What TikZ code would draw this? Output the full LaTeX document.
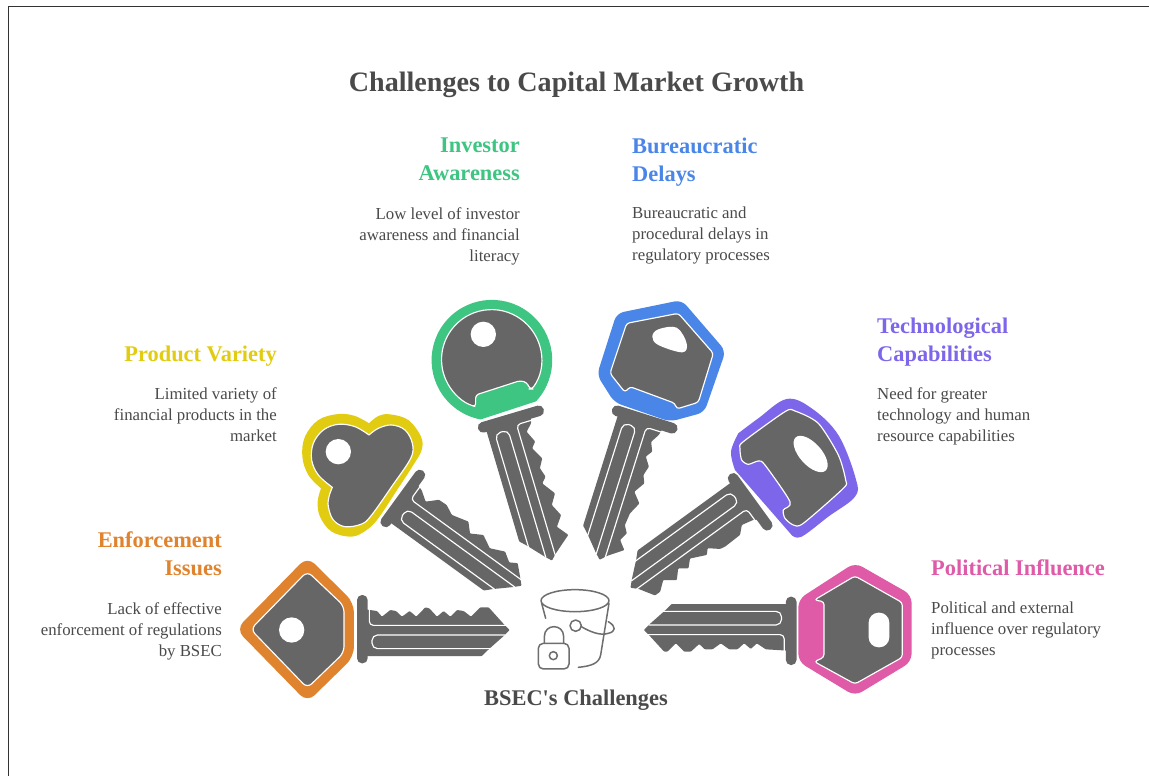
\documentclass[tikz,border=0pt]{standalone}
\usepackage{fontspec}
\setmainfont{Liberation Serif}
\definecolor{keygray}{HTML}{666666}
\definecolor{txtgray}{HTML}{4A4A4A}
\definecolor{cgreen}{HTML}{3EC582}
\definecolor{cblue}{HTML}{4A86E8}
\definecolor{cpurple}{HTML}{7E66EA}
\definecolor{cpink}{HTML}{DF5BA8}
\definecolor{cyellow}{HTML}{E2CC12}
\definecolor{corange}{HTML}{E0832E}
\tikzset{
  zoomed/.style 2 args={shift={(#1pt,-#2pt)},x=0.3333pt,y=-0.3333pt},
  inner/.style={fill=keygray,draw=white,line width=1.15pt,line join=round},
  groove/.style={draw=white,line width=1.15pt,line cap=butt},
  title/.style={font=\fontsize{28.1}{32}\selectfont\bfseries,text=txtgray,inner sep=0pt},
  head/.style={font=\fontsize{22.4}{28}\selectfont\bfseries,inner sep=0pt},
  body/.style={font=\fontsize{16.8}{21}\selectfont,text=txtgray,inner sep=0pt},
  icon/.style={draw=keygray!95,line width=1.5pt,line cap=round,line join=round}
}
\newcommand{\keyblade}[4]{%
 \begin{scope}[zoomed={#1}{#2},rotate=-#3,shift={(-380,-240)}]
  \fill[keygray,rounded corners=5pt] (380,135) rectangle (412,340);
  \fill[keygray,rounded corners=0.8pt] (405,178) #4 --(820,222)--(838,240)--(820,258)--(775,298)--(755,318)--(405,318)--cycle;
  \draw[groove,rounded corners=4pt] (417,172)--(417,226)--(828,226);
  \draw[groove,rounded corners=5.5pt] (824,255)--(425,255)--(425,296)--(782,296);
 \end{scope}}
\begin{document}
\begin{tikzpicture}[x=1pt,y=-1pt]
\useasboundingbox (0,0) rectangle (1149,776);
\fill[white] (0,0) rectangle (1149,776);
\draw[line width=1pt,black!80] (8.5,776)--(8.5,6.5)--(1149,6.5);

\node[title] (ttl) at (576.5,85) {Challenges to Capital Market Growth};

% blades
\keyblade{357}{630}{0}{--(440,183)--(455,200)--(480,180)--(497,183)--(515,200)--(538,183)--(558,200)--(585,172)--(597,175)--(620,200)--(640,183)--(660,200)--(680,180)--(700,183)--(722,200)--(750,172)--(775,172)}
\keyblade{796.5}{630}{180}{--(472,182)--(499,200)--(517,183)--(537,200)--(557,182)--(582,182)--(607,200)--(632,182)--(655,182)--(672,198)--(697,175)--(717,175)--(742,200)--(767,175)--(777,175)}
\keyblade{398}{496}{36}{--(427,184)--(457,205)--(486,177)--(514,176)--(544,191)--(596,178)--(621,204)--(656,184)--(695,205)--(738,186)--(767,205)--(789,192)}
\keyblade{508.6}{414.2}{73.5}{--(425,183)--(446,203)--(481,187)--(498,201)--(536,181)--(562,196)--(591,187)--(608,202)--(647,174)--(678,193)--(715,175)--(745,197)--(778,171)}
\keyblade{645.5}{414.2}{107.5}{--(427,183)--(454,199)--(481,187)--(501,201)--(527,183)--(556,191)--(579,181)--(612,202)--(641,177)--(678,195)--(716,199)--(738,186)--(763,199)--(788,178)}
\keyblade{754}{498}{144}{--(420,188)--(457,196)--(479,175)--(536,173)--(552,176)--(581,200)--(595,185)--(642,206)--(663,185)--(688,203)--(712,177)--(745,201)--(773,178)--(792,178)}

% orange head
\begin{scope}[zoomed={230}{550}]
 \fill[corange,rounded corners=10pt] (18,238)--(232,20)--(372,158)--(372,320)--(232,457)--cycle;
 \path[inner,rounded corners=6pt] (62,238)--(232,64)--(342,168)--(342,308)--(232,414)--cycle;
 \fill[white] (185,240) circle[radius=38];
\end{scope}
% pink head
\begin{scope}[zoomed={630}{550}]
 \fill[cpink,rounded corners=8pt] (505,148)--(675,38)--(845,135)--(845,335)--(675,438)--(505,335)--cycle;
 \path[inner,rounded corners=3pt] (553,150)--(675,78)--(817,158)--(817,322)--(675,402)--(553,335)--(582,322)--(582,155)--cycle;
 \fill[white,rounded corners=10pt] (716,188) rectangle (778,292);
\end{scope}
% yellow head
\begin{scope}[zoomed={295}{400}]
 \fill[cyellow] plot[smooth,tension=.6] coordinates {(222,70)(250,48)(285,43)(340,60)(378,110)(380,150)(355,195)(303,275)(250,355)(215,390)(170,410)(110,395)(75,350)(68,305)(78,265)}
   -- plot[smooth,tension=.6] coordinates {(78,265)(40,225)(22,170)(30,110)(70,60)(130,42)(180,48)(222,70)} -- cycle;
 \path[inner] plot[smooth,tension=.6] coordinates {(222,105)(250,85)(290,75)(330,90)(352,130)(347,175)(290,260)(230,345)(200,372)(150,380)(115,360)(100,320)(102,290)(112,262)}
   -- plot[smooth,tension=.6] coordinates {(112,262)(70,225)(50,180)(55,130)(85,90)(130,73)(180,80)(222,105)} -- cycle;
 \fill[white] (130,155) circle[radius=38];
\end{scope}
% green head
\begin{scope}[zoomed={425}{295}]
 \fill[cgreen] (333.1,319.1) arc[start angle=43,end angle=-259.2,radius=181] -- cycle;
 \path[inner,rounded corners=3pt] (321,282) arc[start angle=36,end angle=-247,radius=150] -- (152,335) -- (152,300) -- (285,257) -- (305,262) -- (315,282) -- cycle;
 \fill[white] (175,118) circle[radius=38];
\end{scope}
% blue head
\begin{scope}[zoomed={575}{295}]
 \fill[cblue,rounded corners=7pt] (125,55)--(320,15)--(452,168)--(388,352)--(285,380)--(118,322)--(66,240)--cycle;
 \path[inner,rounded corners=3pt] (155,85)--(310,55)--(415,175)--(370,322)--(305,342)--(300,325)--(165,275)--(150,292)--(105,235)--cycle;
 \fill[white] plot[smooth cycle,tension=.6] coordinates {(232,125)(250,103)(305,98)(335,145)(322,172)(250,150)};
\end{scope}
% purple head
\begin{scope}[zoomed={625}{395}]
 \fill[cpurple] plot[smooth,tension=.6] coordinates {(340,115)(400,70)(485,12)(560,40)(640,120)(692,250)(690,305)(610,365)(530,425)(500,420)}
   -- (330,225) -- plot[smooth,tension=.6] coordinates {(330,225)(318,170)(340,115)} -- cycle;
 \path[inner] plot[smooth cycle,tension=.45] coordinates {(345,160)(355,140)(480,50)(510,48)(580,85)(640,180)(662,255)(655,280)(535,385)(505,390)(480,370)(475,345)(495,320)(420,210)(400,198)(370,208)(350,195)};
 \fill[white,shift={(557,177)},rotate=-48] (0,0) ellipse[x radius=67,y radius=33];
\end{scope}
% bucket icon
\begin{scope}[zoomed={525}{580}]
 \draw[icon] (150,62) ellipse[x radius=102,y radius=33];
 \draw[icon] (50,70)--(62,115);
 \draw[icon] (252,70)--(227,225) .. controls (222,250) and (200,258) .. (160,262);
 \draw[icon] (152,137) circle[radius=17];
 \draw[icon] (169,140) .. controls (195,155) and (225,168) .. (250,160) .. controls (272,155) and (275,140) .. (250,125);
 \draw[icon,rounded corners=5pt] (40,190) rectangle (132,267);
 \draw[icon] (58,190)--(58,170) .. controls (58,130) and (116,130) .. (116,170)--(116,190);
 \draw[icon] (85,227) circle[radius=12];
\end{scope}

\node[title,font=\fontsize{22.4}{28}\selectfont\bfseries] (bsec) at (576,700.5) {BSEC\textquotesingle s Challenges};

% labels
\node[head,text=cgreen,anchor=north east,align=right] (h1) at (520,137.5) {Investor\\Awareness};
\node[body,anchor=north east,align=right] (b1) at (520,207) {Low level of investor\\awareness and financial\\literacy};
\node[head,text=cblue,anchor=north west,align=left] (h2) at (632,137.5) {Bureaucratic\\Delays};
\node[body,anchor=north west,align=left] (b2) at (632,207) {Bureaucratic and\\procedural delays in\\regulatory processes};
\node[head,text=cpurple,anchor=north west,align=left] (h3) at (877,317.5) {Technological\\Capabilities};
\node[body,anchor=north west,align=left] (b3) at (877,387) {Need for greater\\technology and human\\resource capabilities};
\node[head,text=cpink,anchor=north west,align=left] (h4) at (931,559.5) {Political Influence};
\node[body,anchor=north west,align=left] (b4) at (931,602) {Political and external\\influence over regulatory\\processes};
\node[head,text=cyellow,anchor=north east,align=right] (h5) at (277,345.5) {Product Variety};
\node[body,anchor=north east,align=right] (b5) at (277,387) {Limited variety of\\financial products in the\\market};
\node[head,text=corange,anchor=north east,align=right] (h6) at (222,531.5) {Enforcement\\Issues};
\node[body,anchor=north east,align=right] (b6) at (222,602) {Lack of effective\\enforcement of regulations\\by BSEC};
\end{tikzpicture}
\end{document}
